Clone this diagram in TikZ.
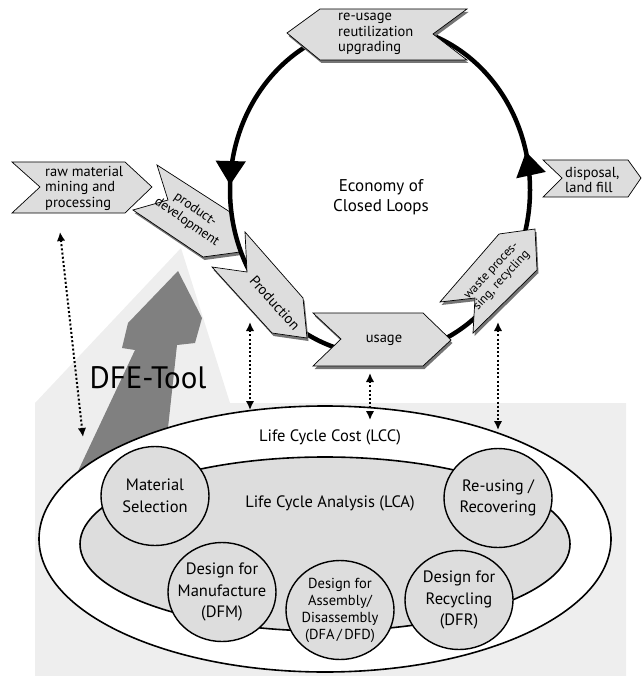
\documentclass[tikz,border=0pt]{standalone}
\usepackage{fontspec}
\setmainfont{PT Sans}
\usetikzlibrary{arrows.meta,decorations.markings}
\definecolor{bggray}{HTML}{EEEEEE}
\definecolor{boxgray}{HTML}{DDDDDD}
\definecolor{toolgray}{HTML}{808080}
\definecolor{shadegray}{HTML}{757575}
\newcommand{\dfeSize}[2]{\fontsize{#1}{#2}\selectfont}
\newcommand{\dfeBubble}[4]{%
  \draw[bubble] (#2) ellipse [x radius=54pt, y radius=49.5pt];
  \node[bubbletext, #3] (#1) at (#2) {#4};}
\tikzset{
  flowbox/.style={fill=boxgray, draw=black, line width=0.7pt,
    preaction={fill=shadegray, transform canvas={xshift=1.5pt, yshift=-3pt}}},
  sidebox/.style={fill=boxgray, draw=black, line width=0.7pt},
  boxtext/.style={font=\dfeSize{14.5}{15.5}, align=left, inner sep=0pt},
  bubble/.style={fill=boxgray, draw=black, line width=1.4pt},
  bubbletext/.style={font=\dfeSize{16.5}{21.5}, align=center, inner sep=0pt},
  link/.style={line width=2pt, dash pattern=on 2pt off 2.2pt, <->,
    >={Latex[length=9pt,width=8.5pt]}},
}
\begin{document}
\begin{tikzpicture}[x=1pt,y=-1pt]
\useasboundingbox (0,0) rectangle (642,676);
\fill[bggray] (35,676) -- (35,403) -- (181,248) -- (230,403) -- (626,403) -- (626,676) -- cycle;
\fill[toolgray] (178,271) -- (202,318) -- (195,343) -- (177,345) -- (158,520) -- (55,520)
  -- (135,350) -- (122,348) -- (128,323) -- cycle;
\node[font=\dfeSize{31}{31}, inner sep=0pt] (tool) at (148,378) {DFE-Tool};
\draw[line width=1.6pt, fill=white] (325,539) ellipse [x radius=286pt, y radius=133pt];
\draw[line width=1.6pt, fill=boxgray] (325,544) ellipse [x radius=245pt, y radius=87pt];
\node[bubbletext] (lcc) at (330,437) {Life Cycle Cost (LCC)};
\node[bubbletext] (lca) at (330,503) {Life Cycle Analysis (LCA)};
\dfeBubble{matsel}{155,496}{}{Material\\Selection}
\dfeBubble{reusing}{498,498}{}{Re-using /\\Recovering}
\dfeBubble{dfm}{222,592}{}{Design for\\Manufacture\\(DFM)}
\dfeBubble{dfa}{340,610}{font=\dfeSize{14.5}{17}}{Design for\\Assembly/\\Disassembly\\(DFA\,/\,DFD)}
\dfeBubble{dfr}{459,600}{}{Design for\\Recycling\\(DFR)}
\draw[sidebox] (12,162) -- (125,162) -- (152,187) -- (125,213) -- (12,213) -- (40,187) -- cycle;
\node[boxtext, anchor=west] (raw) at (45,188) {raw material\\mining and\\processing};
\draw[sidebox] (543,160) -- (628,160) -- (641,178) -- (628,197) -- (543,197) -- (562,178) -- cycle;
\node[boxtext, anchor=west] (disposal) at (565,180) {disposal,\\land fill};
\draw[flowbox] (157,165) -- (230,212) -- (240,252) -- (203,257) -- (133,210) -- (168,200) -- cycle;
\node[boxtext, align=center, rotate=-35, font=\dfeSize{13.5}{15}] (proddev) at (191,216) {product-\\development};
\draw[line width=4.5pt, postaction={decorate}, decoration={markings,
    mark=at position 0.245 with {\arrow{Triangle[length=24pt,width=29pt]}},
    mark=at position 0.789 with {\arrow{Triangle[length=24pt,width=29pt]}}}]
  (380,25) arc [start angle=90, end angle=450, x radius=150pt, y radius=165pt];
\draw[flowbox] (245,232) -- (303,298) -- (307,338) -- (272,333) -- (212,267) -- (247,272) -- cycle;
\node[boxtext, rotate=-48] (production) at (275,303) {Production};
\draw[flowbox] (313,313) -- (423,313) -- (451,340) -- (423,366) -- (313,366) -- (341,339) -- cycle;
\node[boxtext] (usage) at (384,340) {usage};
\draw[flowbox] (499,234) -- (535,229) -- (537,270) -- (473,333) -- (475,298) -- (440,302) -- cycle;
\node[boxtext, align=center, rotate=47, font=\dfeSize{12.5}{14}] (waste) at (497,276) {waste proces-\\sing, recycling};
\draw[flowbox] (287,33) -- (320,9) -- (467,9) -- (433,34) -- (467,60) -- (320,60) -- cycle;
\node[boxtext, anchor=west] (reusage) at (338,34) {re-usage\\reutilization\\upgrading};
\node[font=\dfeSize{17}{20}, align=center, inner sep=0pt] (economy) at (381,197) {Economy of\\Closed Loops};
\coordinate (rawfoot) at (60,232);
\coordinate (lccraw) at (83,437);
\coordinate (prodfoot) at (250,322);
\coordinate (lccprod) at (250,410);
\coordinate (usagefoot) at (370,373);
\coordinate (lccusage) at (370,420);
\coordinate (wastefoot) at (498,322);
\coordinate (lccwaste) at (498,430);
\draw[link] (rawfoot) -- (lccraw);
\draw[link] (prodfoot) -- (lccprod);
\draw[link] (usagefoot) -- (lccusage);
\draw[link] (wastefoot) -- (lccwaste);
\end{tikzpicture}
\end{document}
